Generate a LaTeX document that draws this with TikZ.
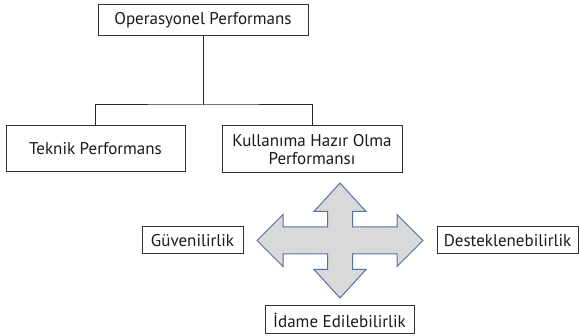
\documentclass[tikz,border=0pt]{standalone}
\usepackage{fontspec}
\setmainfont{PT Sans}
\usepackage{tikz}
\usetikzlibrary{calc}

\definecolor{okkenar}{RGB}{84,112,160}
\definecolor{okdolgu}{RGB}{217,217,217}

\begin{document}
\begin{tikzpicture}[x=1pt,y=-1pt,
  kutu/.style={draw=black!80,line width=1pt,text=black!90,inner sep=0pt,font=\fontsize{17}{18}\selectfont},
  cizgi/.style={draw=black!85,line width=1pt}]
\useasboundingbox (0,0) rectangle (579,336);
\node[kutu,minimum width=210,minimum height=31] (op) at (203,20.5) {Operasyonel Performans};
\node[kutu,minimum width=179,minimum height=46] (teknik) at (95.5,149) {Teknik Performans};
\node[kutu,minimum width=180,minimum height=47,align=center] (hazir) at (312,149.5) {Kullanıma Hazır Olma\\Performansı};
\coordinate (bar) at (203,105);
\draw[cizgi] (op.south) -- (bar);
\draw[cizgi] (teknik.north) |- (bar) -| (hazir.north);
% dort yonlu ok
\draw[okkenar,fill=okdolgu,line width=1pt,line join=miter] (340,240.5)
  ++(0,-57.5) -- ++(26,28.5) -- ++(-13.5,0) -- ++(0,15.5) -- ++(44.5,0) -- ++(0,-12.5)
  -- ++(26,26) -- ++(-26,26) -- ++(0,-12.5) -- ++(-44.5,0) -- ++(0,15.5) -- ++(13.5,0)
  -- ++(-26,28.5) -- ++(-26,-28.5) -- ++(13.5,0) -- ++(0,-15.5) -- ++(-44.5,0) -- ++(0,12.5)
  -- ++(-26,-26) -- ++(26,-26) -- ++(0,12.5) -- ++(44.5,0) -- ++(0,-15.5) -- ++(-13.5,0) -- cycle;
\node[kutu,minimum width=101,minimum height=27] (guven) at (192.5,240.5) {Güvenilirlik};
\node[kutu,minimum width=141,minimum height=27] (destek) at (507.5,240.5) {Desteklenebilirlik};
\node[kutu,minimum width=149,minimum height=28] (idame) at (339.5,320) {İdame Edilebilirlik};
\end{tikzpicture}
\end{document}
